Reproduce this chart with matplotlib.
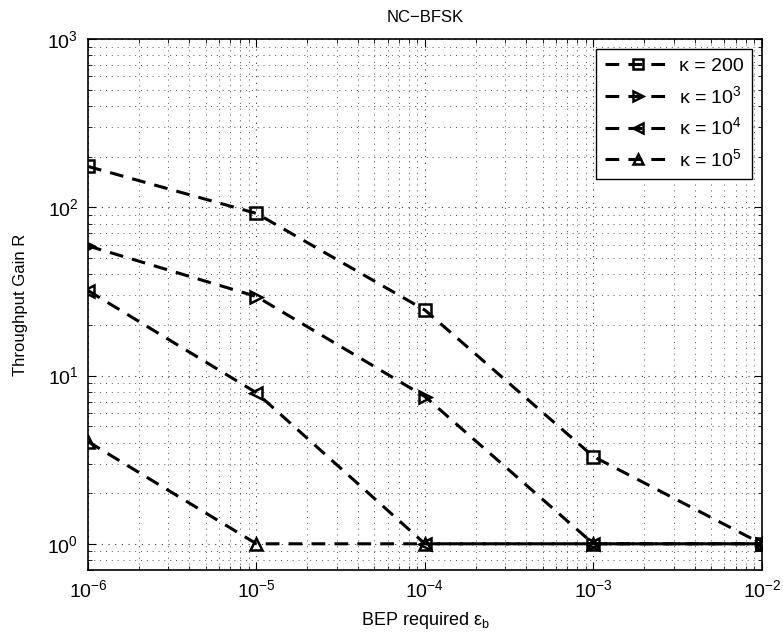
import matplotlib.pyplot as plt
import numpy as np

plt.rcParams['font.family'] = ['Liberation Sans', 'DejaVu Sans']
plt.rcParams['mathtext.fontset'] = 'custom'
plt.rcParams['mathtext.rm'] = 'Liberation Sans'
plt.rcParams['mathtext.it'] = 'Liberation Sans:italic'
plt.rcParams['mathtext.bf'] = 'Liberation Sans:bold'

# data
bep = [1e-6, 1e-5, 1e-4, 1e-3, 1e-2]
gain_k200 = [175, 92, 24.5, 3.3, 1.0]
gain_k1e3 = [59, 29.5, 7.5, 1.0, 1.0]
gain_k1e4 = [32, 7.9, 1.0, 1.0, 1.0]
gain_k1e5 = [4.05, 1.0, 1.0, 1.0, 1.0]

series = [
    (gain_k200, 's', 'κ = 200'),
    (gain_k1e3, '>', r'κ = 10$^{3}$'),
    (gain_k1e4, '<', r'κ = 10$^{4}$'),
    (gain_k1e5, '^', r'κ = 10$^{5}$'),
]

fig = plt.figure(figsize=(7.83, 6.41), dpi=100)
ax = fig.add_axes([0.1124, 0.111, 0.8606, 0.828])

for vals, mk, lab in series:
    ax.plot(bep, vals, linestyle='--', dashes=(4.5, 3), color='black', linewidth=2.2,
            marker=mk, markersize=9, markerfacecolor='none', markeredgewidth=1.8,
            label=lab)

ax.set_xscale('log')
ax.set_yscale('log')
ax.set_xlim(1e-6, 1e-2)
ax.set_ylim(0.7, 1e3)

# matlab-style sparse dotted grid
ax.grid(True, which='major', linestyle=(0, (1, 5)), color='#333333', linewidth=0.8)
ax.grid(True, which='minor', linestyle=(0, (1, 5)), color='#555555', linewidth=0.7)
ax.tick_params(which='both', direction='in', top=True, right=True, labelsize=14)
ax.tick_params(which='major', length=6, pad=7)
ax.tick_params(which='minor', length=3)
for sp in ax.spines.values():
    sp.set_linewidth(1.2)

ax.set_title('NC\u2212BFSK', fontsize=12, pad=12)
ax.set_xlabel(r'BEP required ε$_{\mathrm{b}}$', fontsize=13, labelpad=6)
ax.set_ylabel('Throughput Gain R', fontsize=12, labelpad=14)

leg = ax.legend(loc='upper right', fontsize=14, fancybox=False, framealpha=1,
                edgecolor='black', handlelength=3.4, borderpad=0.45,
                labelspacing=0.5, handletextpad=0.4, markerscale=0.75,
                borderaxespad=0.5)
leg.get_frame().set_linewidth(1.0)

fig.savefig('out.png', dpi=100)
